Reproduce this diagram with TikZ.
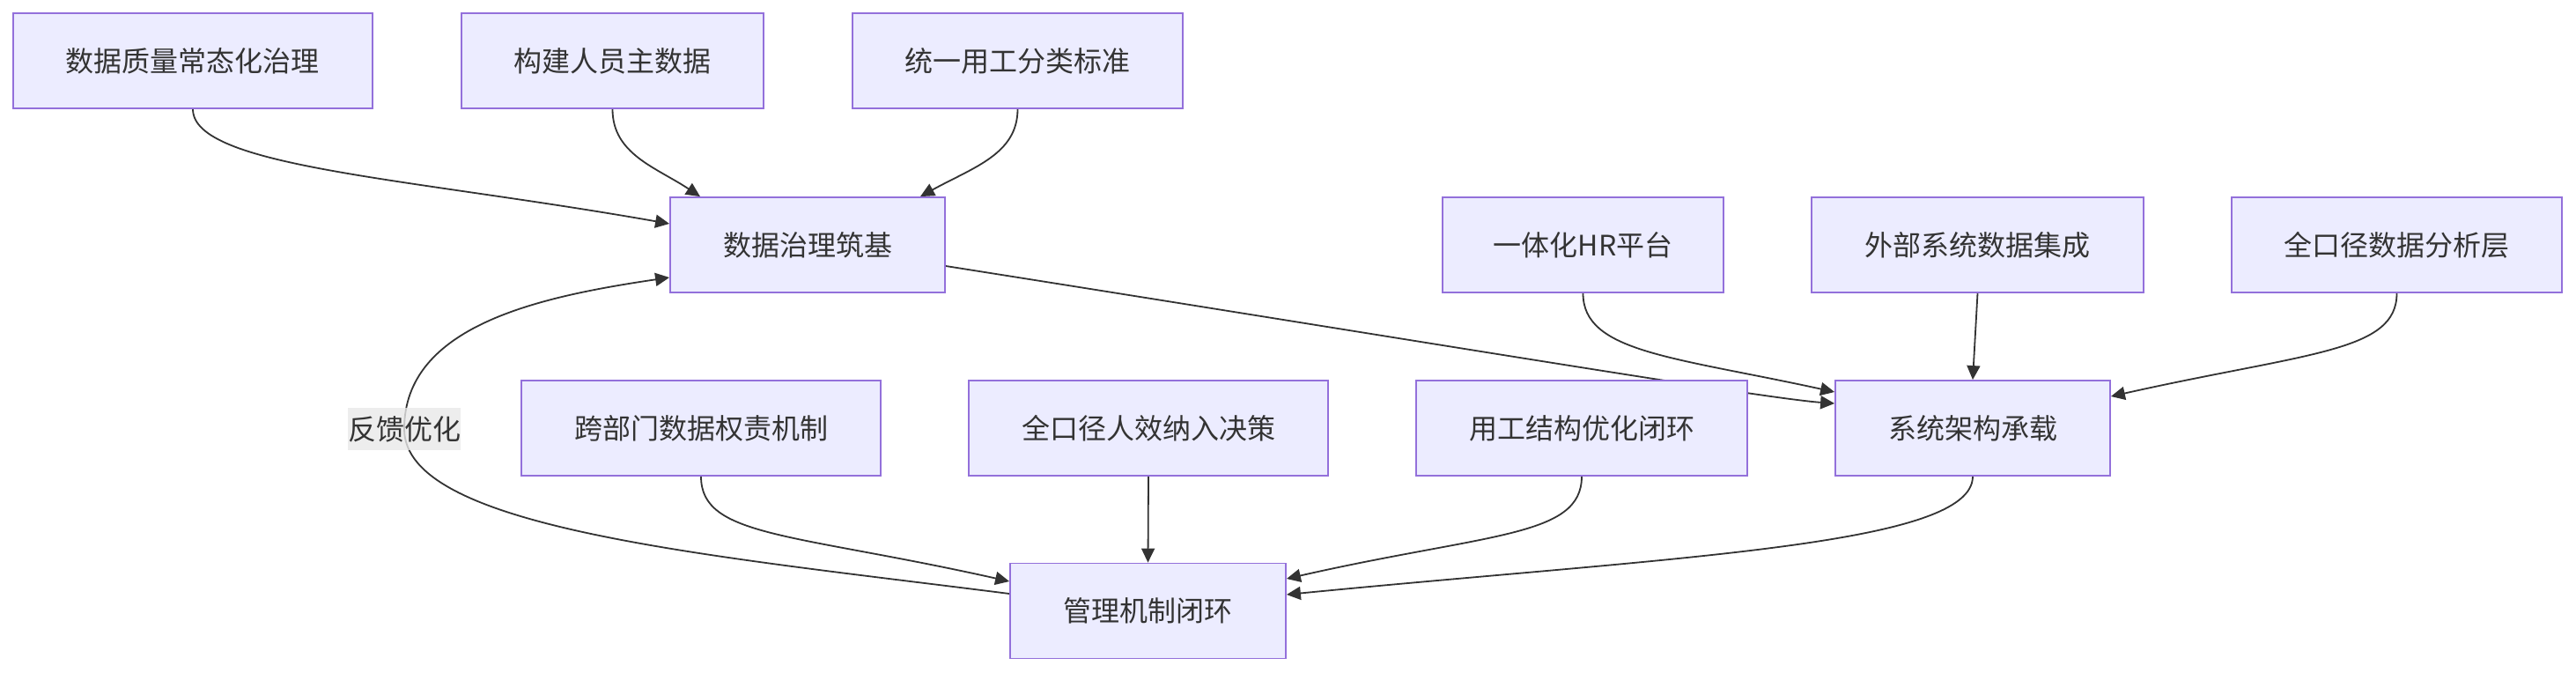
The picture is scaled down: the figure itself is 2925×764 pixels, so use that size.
\documentclass[tikz,border=0pt]{standalone}
\usepackage{fontspec}
\setmainfont{Noto Sans CJK SC}
\usetikzlibrary{arrows.meta,backgrounds}
\definecolor{boxfill}{HTML}{ECECFF}
\definecolor{boxline}{HTML}{9370DB}
\definecolor{linegray}{HTML}{333333}
\definecolor{lblfill}{HTML}{E8E8E8}
\begin{document}
\begin{tikzpicture}[x=0.5pt,y=-0.5pt,
    box/.style={draw=boxline,fill=boxfill,line width=0.9pt,minimum height=54pt,
        inner sep=0pt,text=linegray,font=\fontsize{16pt}{20pt}\selectfont},
    link/.style={draw=linegray,line width=0.9pt,-{Triangle[length=8pt,width=7.5pt]}},
    lbl/.style={fill=lblfill,fill opacity=0.8,text opacity=1,text=linegray,
        inner xsep=0pt,inner ysep=0pt,minimum height=24pt,font=\fontsize{16pt}{20pt}\selectfont}]
    \useasboundingbox (0,0) rectangle (2925,764);
    % 上段
    \node[box,minimum width=204pt] (DQ) at (219,69) {数据质量常态化治理};
    \node[box,minimum width=171.5pt] (MD) at (695.5,69) {构建人员主数据};
    \node[box,minimum width=187.5pt] (ST) at (1155.5,69) {统一用工分类标准};
    % 中段
    \node[box,minimum width=156pt] (DG) at (917,278) {数据治理筑基};
    \node[box,minimum width=159.5pt] (HR) at (1797.5,278) {一体化HR平台};
    \node[box,minimum width=188.5pt] (EX) at (2245.5,278) {外部系统数据集成};
    \node[box,minimum width=187.5pt] (AN) at (2721.5,278) {全口径数据分析层};
    % 下段
    \node[box,minimum width=204pt] (CR) at (796,486) {跨部门数据权责机制};
    \node[box,minimum width=204pt] (DE) at (1304,486) {全口径人效纳入决策};
    \node[box,minimum width=188pt] (OP) at (1796,486) {用工结构优化闭环};
    \node[box,minimum width=156pt] (SY) at (2240,486) {系统架构承载};
    \node[box,minimum width=156.5pt] (MG) at (1303.5,693.5) {管理机制闭环};
    \coordinate (FB) at (459,487);
    % 矢印
    \begin{scope}[on background layer]
        \draw[link] (DQ.south) .. controls (219,190) and (466,202) .. ([yshift=12pt]DG.west);
        \draw[link] (MD.south) .. controls (695.5,175) and (745,190) .. ([xshift=-61pt]DG.north);
        \draw[link] (ST.south) .. controls (1155.5,175) and (1105,190) .. ([xshift=64pt]DG.north);
        \draw[link] ([yshift=-12pt]DG.east) .. controls (1600,385) and (2000,452) .. ([yshift=14pt]SY.west);
        \draw[link] (HR.south) .. controls (1797.5,400) and (1900,405) .. ([yshift=20.5pt]SY.west);
        \draw[link] (EX.south) -- (SY.north);
        \draw[link] (AN.south) .. controls (2721.5,400) and (2620,400) .. ([yshift=18pt]SY.east);
        \draw[link] (CR.south) .. controls (796,610) and (900,605) .. ([yshift=16.75pt]MG.west);
        \draw[link] (DE.south) -- (MG.north);
        \draw[link] (OP.south) .. controls (1796,610) and (1690,605) .. ([yshift=18.25pt]MG.east);
        \draw[link] (SY.south) .. controls (2240,620) and (1900,632) .. ([yshift=9.25pt]MG.east);
        \draw[link] ([yshift=9.75pt]MG.west) .. controls (800,630) and (459,600) .. (FB)
            .. controls (459,370) and (611,337) .. ([yshift=-18.5pt]DG.west);
    \end{scope}
    \node[lbl] (FBL) at (FB) {反馈优化};
\end{tikzpicture}
\end{document}
